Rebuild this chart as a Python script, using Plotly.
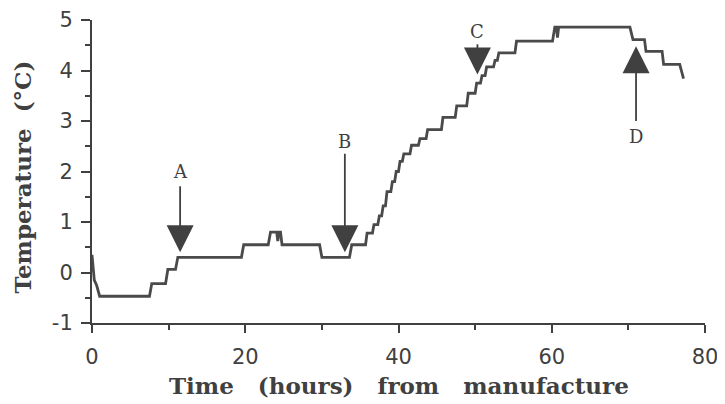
import plotly.graph_objects as go

# Temperature trace (hours from manufacture, °C)
hours = [0.0, 0.3, 0.6, 1.0, 7.5, 7.8, 9.6, 9.9, 10.9, 11.2, 19.5, 19.8, 23.0, 23.3,
         24.1, 24.25, 24.4, 24.6, 24.8, 29.7, 30.0, 33.6, 33.9, 35.7, 35.9, 36.6, 36.8,
         37.3, 37.5, 37.8, 38.0, 38.3, 38.5, 39.0, 39.2, 39.5, 39.7, 40.0, 40.2, 40.5,
         40.7, 41.5, 41.7, 42.6, 42.8, 43.6, 43.8, 45.6, 45.8, 47.4, 47.6, 48.9, 49.1,
         50.0, 50.2, 50.7, 50.9, 51.3, 51.5, 52.4, 52.6, 52.9, 53.1, 55.2, 55.4, 60.1,
         60.4, 60.6, 60.75, 60.9, 70.2, 70.6, 72.1, 72.3, 74.4, 74.6, 76.7, 77.2]
temps = [0.35, -0.15, -0.25, -0.47, -0.47, -0.22, -0.22, 0.06, 0.06, 0.30, 0.30, 0.55, 0.55, 0.80,
         0.80, 0.62, 0.80, 0.80, 0.55, 0.55, 0.30, 0.30, 0.55, 0.55, 0.78, 0.78, 0.95,
         0.95, 1.12, 1.12, 1.32, 1.32, 1.60, 1.60, 1.80, 1.80, 2.00, 2.00, 2.20, 2.20,
         2.35, 2.35, 2.52, 2.52, 2.65, 2.65, 2.83, 2.83, 3.07, 3.07, 3.30, 3.30, 3.55,
         3.55, 3.75, 3.75, 3.90, 3.90, 4.07, 4.07, 4.20, 4.20, 4.35, 4.35, 4.58, 4.58,
         4.86, 4.86, 4.65, 4.86, 4.86, 4.61, 4.61, 4.38, 4.38, 4.12, 4.12, 3.84]

# Event arrows
arrow_labels = ["A", "B", "C", "D"]
arrow_x = [11.5, 33.0, 50.3, 71.0]
arrow_tip = [0.40, 0.40, 3.92, 4.48]
arrow_tail = [1.74, 2.38, 4.55, 2.97]
label_y = [2.0, 2.6, 4.78, 2.70]

x_ticks = [0, 20, 40, 60, 80]
y_ticks = [-1, 0, 1, 2, 3, 4, 5]

ink = "#404040"
title_font = dict(family="DejaVu Serif", size=23, color=ink, weight="bold")

fig = go.Figure()
fig.add_trace(go.Scatter(x=hours, y=temps, mode="lines",
                         line=dict(color="#4a4a4a", width=2.8), hoverinfo="skip"))

annotations = []
for lab, ax_, tip, tail, ly in zip(arrow_labels, arrow_x, arrow_tip, arrow_tail, label_y):
    annotations.append(dict(x=ax_, y=tip, ax=ax_, ay=tail, xref="x", yref="y",
                            axref="x", ayref="y", text="", showarrow=True,
                            arrowhead=2, arrowsize=3.0, arrowwidth=1.8, arrowcolor=ink))
    annotations.append(dict(x=ax_, y=ly, xref="x", yref="y", text=lab, showarrow=False,
                            font=dict(family="DejaVu Serif", size=18, color=ink)))

annotations.append(dict(x=0.5, y=0, xref="paper", yref="paper", yshift=-62,
                        xanchor="center", yanchor="middle", showarrow=False,
                        text="Time\u00a0\u00a0\u00a0(hours)\u00a0\u00a0\u00a0from\u00a0\u00a0\u00a0manufacture",
                        font=title_font))
annotations.append(dict(x=0, y=0.48, xref="paper", yref="paper", xshift=-69,
                        xanchor="center", yanchor="middle", showarrow=False, textangle=-90,
                        text="Temperature\u00a0\u00a0(°C)",
                        font=title_font))

# The page body adds an 8px margin, so the figure is sized 8px smaller and shifted.
fig.update_layout(
    width=717, height=396,
    margin=dict(l=84, r=20, t=12, b=81, autoexpand=False),
    paper_bgcolor="white", plot_bgcolor="white",
    showlegend=False,
    annotations=annotations,
    xaxis=dict(range=[0, 80], tickvals=x_ticks, ticktext=[str(v) for v in x_ticks],
               showgrid=False, zeroline=False, showline=True, linecolor=ink, linewidth=2,
               ticks="outside", ticklen=8, tickwidth=2, tickcolor=ink,
               minor=dict(dtick=10, ticks="outside", ticklen=5, tickwidth=1.5, tickcolor=ink),
               tickfont=dict(family="DejaVu Sans", size=21, color=ink),
               ticklabelstandoff=6, ticklabeloverflow="allow", automargin=False),
    yaxis=dict(range=[-1, 5], tickvals=y_ticks, ticktext=[str(v) for v in y_ticks],
               showgrid=False, zeroline=False, showline=True, linecolor=ink, linewidth=2,
               ticks="outside", ticklen=9, tickwidth=2, tickcolor=ink,
               minor=dict(dtick=0.5, ticks="outside", ticklen=5, tickwidth=1.5, tickcolor=ink),
               tickfont=dict(family="DejaVu Sans", size=21, color=ink),
               ticklabelstandoff=4, ticklabeloverflow="allow", automargin=False),
)

fig.write_html("out.html")
